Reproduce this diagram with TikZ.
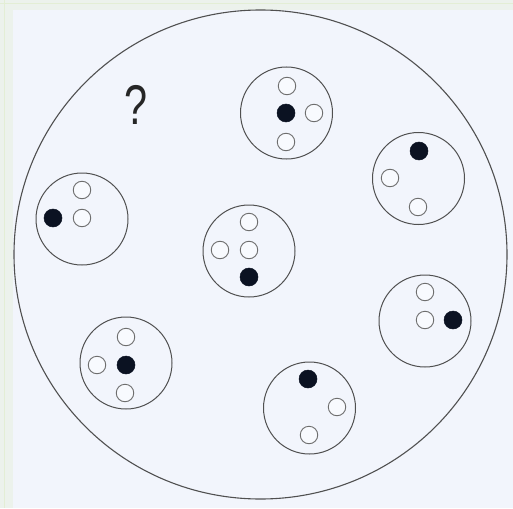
\documentclass[tikz,border=0pt]{standalone}
\usepackage{fontspec}
\setmainfont{Liberation Sans}
\usetikzlibrary{shapes.geometric}
\definecolor{bg}{HTML}{F2F5FC}
\definecolor{edge}{HTML}{505050}
\definecolor{hollowedge}{HTML}{6E6E6E}
\definecolor{dotfill}{HTML}{0B1222}
\definecolor{framecol}{HTML}{E3EED5}
\tikzset{
  outer/.style={ellipse, draw=edge, line width=1.1pt, inner sep=0pt, minimum width=493pt, minimum height=489pt},
  group/.style={circle, draw=edge, line width=1pt, inner sep=0pt, minimum size=92pt},
  hollow/.style={circle, draw=hollowedge, line width=0.9pt, fill=white!50!bg, inner sep=0pt, minimum size=17.5pt},
  blackdot/.style={circle, fill=dotfill, draw=dotfill, line width=0.5pt, inner sep=0pt, minimum size=18pt},
}
\begin{document}
\begin{tikzpicture}[x=1pt,y=-1pt]
\fill[bg] (0,0) rectangle (513,508);
\useasboundingbox (0,0) rectangle (513,508);
% frame artefacts
\fill[framecol!40!bg] (0,0) rectangle (513,10);
\fill[framecol!40!bg] (0,0) rectangle (13,508);
\draw[framecol, line width=1.2pt] (0,3.5) -- (513,3.5);
\draw[framecol, line width=1.2pt] (4.5,0) -- (4.5,508);

\node[outer] (big) at (260.5,254.5) {};

\node[font=\fontsize{56}{56}\selectfont, text=black!85] (q) at (136,105) {\scalebox{0.74}[1]{?}};

% group 1 (top)
\node[group] (g1) at (286.5,113) {};
\node[hollow] (g1a) at (287,86) {};
\node[blackdot] (g1b) at (286,113) {};
\node[hollow] (g1c) at (314,113) {};
\node[hollow] (g1d) at (286,142) {};

% group 2 (upper right)
\node[group] (g2) at (418.5,178.5) {};
\node[blackdot] (g2a) at (419,151) {};
\node[hollow] (g2b) at (390,178) {};
\node[hollow] (g2c) at (418,207) {};

% group 3 (left)
\node[group] (g3) at (82,219) {};
\node[blackdot] (g3a) at (53,218) {};
\node[hollow] (g3b) at (82,190) {};
\node[hollow] (g3c) at (82,218) {};

% group 4 (centre)
\node[group] (g4) at (249,251) {};
\node[hollow] (g4a) at (249,222) {};
\node[hollow] (g4b) at (220,250) {};
\node[hollow] (g4c) at (249,250) {};
\node[blackdot] (g4d) at (249,277) {};

% group 5 (lower right)
\node[group] (g5) at (425,321) {};
\node[hollow] (g5a) at (425,292) {};
\node[hollow] (g5b) at (425,320) {};
\node[blackdot] (g5c) at (453,320) {};

% group 6 (lower left)
\node[group] (g6) at (126,363) {};
\node[hollow] (g6a) at (126,337) {};
\node[hollow] (g6b) at (97,365) {};
\node[blackdot] (g6c) at (126,365) {};
\node[hollow] (g6d) at (125,393) {};

% group 7 (bottom)
\node[group] (g7) at (309.5,408) {};
\node[blackdot] (g7a) at (308,379) {};
\node[hollow] (g7b) at (337,407) {};
\node[hollow] (g7c) at (309,435) {};
\end{tikzpicture}
\end{document}
